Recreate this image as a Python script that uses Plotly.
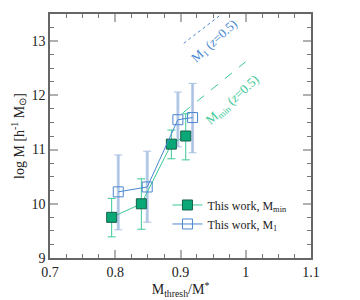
import plotly.graph_objects as go

# Data
mmin_x = [0.7945, 0.840, 0.886, 0.908]
mmin_y = [9.75, 10.0, 11.10, 11.25]
mmin_err_up = [0.35, 0.46, 0.26, 0.41]
mmin_err_dn = [0.36, 0.47, 0.27, 0.44]

m1_x = [0.8046, 0.849, 0.896, 0.9185]
m1_y = [10.22, 10.31, 11.55, 11.59]
m1_err_up = [0.68, 0.66, 0.51, 0.63]
m1_err_dn = [0.70, 0.65, 0.50, 0.65]

# z=0.5 reference relations
ref_m1_x = [0.905, 1.0]
ref_m1_y = [12.96, 13.84]
ref_mmin_x = [0.904, 1.0]
ref_mmin_y = [11.68, 12.62]

GREEN = "#0aa877"
GREEN_LINE = "#3cc895"
BLUE = "#4a86d0"
BLUE_LIGHT = "#bccfe9"
FONT = "Liberation Serif"

fig = go.Figure()

fig.add_trace(go.Scatter(x=ref_m1_x, y=ref_m1_y, mode="lines",
                         line=dict(color=BLUE, width=1, dash="dot"),
                         showlegend=False, hoverinfo="skip"))
fig.add_trace(go.Scatter(x=ref_mmin_x, y=ref_mmin_y, mode="lines",
                         line=dict(color=GREEN_LINE, width=1, dash="dash"),
                         showlegend=False, hoverinfo="skip"))

fig.add_trace(go.Scatter(x=m1_x, y=m1_y, mode="markers",
                         marker=dict(size=1, opacity=0),
                         error_y=dict(type="data", symmetric=False, array=m1_err_up,
                                      arrayminus=m1_err_dn, color=BLUE_LIGHT,
                                      thickness=3, width=0),
                         showlegend=False, hoverinfo="skip"))
fig.add_trace(go.Scatter(x=m1_x, y=m1_y, mode="markers",
                         marker=dict(size=1, opacity=0),
                         error_y=dict(type="data", symmetric=False, array=m1_err_up,
                                      arrayminus=m1_err_dn, color="#a9c1e3",
                                      thickness=1, width=4),
                         showlegend=False, hoverinfo="skip"))
fig.add_trace(go.Scatter(x=mmin_x, y=mmin_y, mode="markers",
                         marker=dict(size=1, opacity=0),
                         error_y=dict(type="data", symmetric=False, array=mmin_err_up,
                                      arrayminus=mmin_err_dn, color=GREEN_LINE,
                                      thickness=1, width=4),
                         showlegend=False, hoverinfo="skip"))

fig.add_trace(go.Scatter(x=mmin_x, y=mmin_y, mode="lines+markers",
                         name="This work, M<sub>min</sub>",
                         line=dict(color=GREEN_LINE, width=1),
                         marker=dict(symbol="square", size=10, color=GREEN,
                                     line=dict(color="#16604a", width=1))))
fig.add_trace(go.Scatter(x=m1_x, y=m1_y, mode="lines+markers",
                         name="This work, M<sub>1</sub>",
                         line=dict(color=BLUE, width=1),
                         marker=dict(symbol="square-open", size=10, color=BLUE,
                                     line=dict(color=BLUE, width=1))))

axis_common = dict(
    showgrid=False, zeroline=False, automargin=False,
    showline=True, linecolor="#666666", linewidth=1.5, mirror="allticks",
    ticks="inside", ticklen=8, tickwidth=1.5, tickcolor="#b0b0b0",
    tickfont=dict(family=FONT, size=14, color="#222222"),
)

fig.update_xaxes(range=[0.7, 1.1],
                 minor=dict(ticks="inside", ticklen=4, tickcolor="#777777", dtick=0.025, tickwidth=1),
                 title=dict(text="M<sub>thresh</sub>/M<sup>*</sup>", font=dict(family=FONT, size=14, color="#222222"),
                            standoff=2),
                 tickvals=[0.7, 0.8, 0.9, 1.0, 1.1], ticktext=["0.7", "0.8", "0.9", "1", "1.1"],
                 **axis_common)
fig.update_yaxes(range=[9, 13.5], dtick=1,
                 minor=dict(ticks="inside", ticklen=4, tickcolor="#777777", dtick=0.25, tickwidth=1),
                 title=dict(text="log M [h<sup>-1</sup> M<sub>⊙</sub>]", font=dict(family=FONT, size=14, color="#222222"),
                            standoff=4),
                 **axis_common)

fig.add_annotation(x=0.952, y=13.0, xref="x", yref="y",
                   text="M<sub>1</sub> (<i>z</i>=0.5)", showarrow=False, textangle=-42,
                   font=dict(family=FONT, size=13, color=BLUE))
fig.add_annotation(x=0.98, y=11.9, xref="x", yref="y",
                   text="M<sub>min</sub> (<i>z</i>=0.5)", showarrow=False, textangle=-42,
                   font=dict(family=FONT, size=13, color=GREEN_LINE))

fig.update_layout(
    width=360, height=300,
    margin=dict(l=50, r=49, t=14, b=42, autoexpand=False),
    paper_bgcolor="white", plot_bgcolor="white",
    font=dict(family=FONT, size=12, color="#222222"),
    legend=dict(x=0.45, y=0.08, xanchor="left", yanchor="bottom",
                bgcolor="rgba(0,0,0,0)", font=dict(family=FONT, size=12),
                tracegroupgap=0, itemwidth=30),
)

fig.write_html("out.html", config={"displayModeBar": False},
               post_script="document.body.style.margin='0';document.body.style.overflow='hidden';")
